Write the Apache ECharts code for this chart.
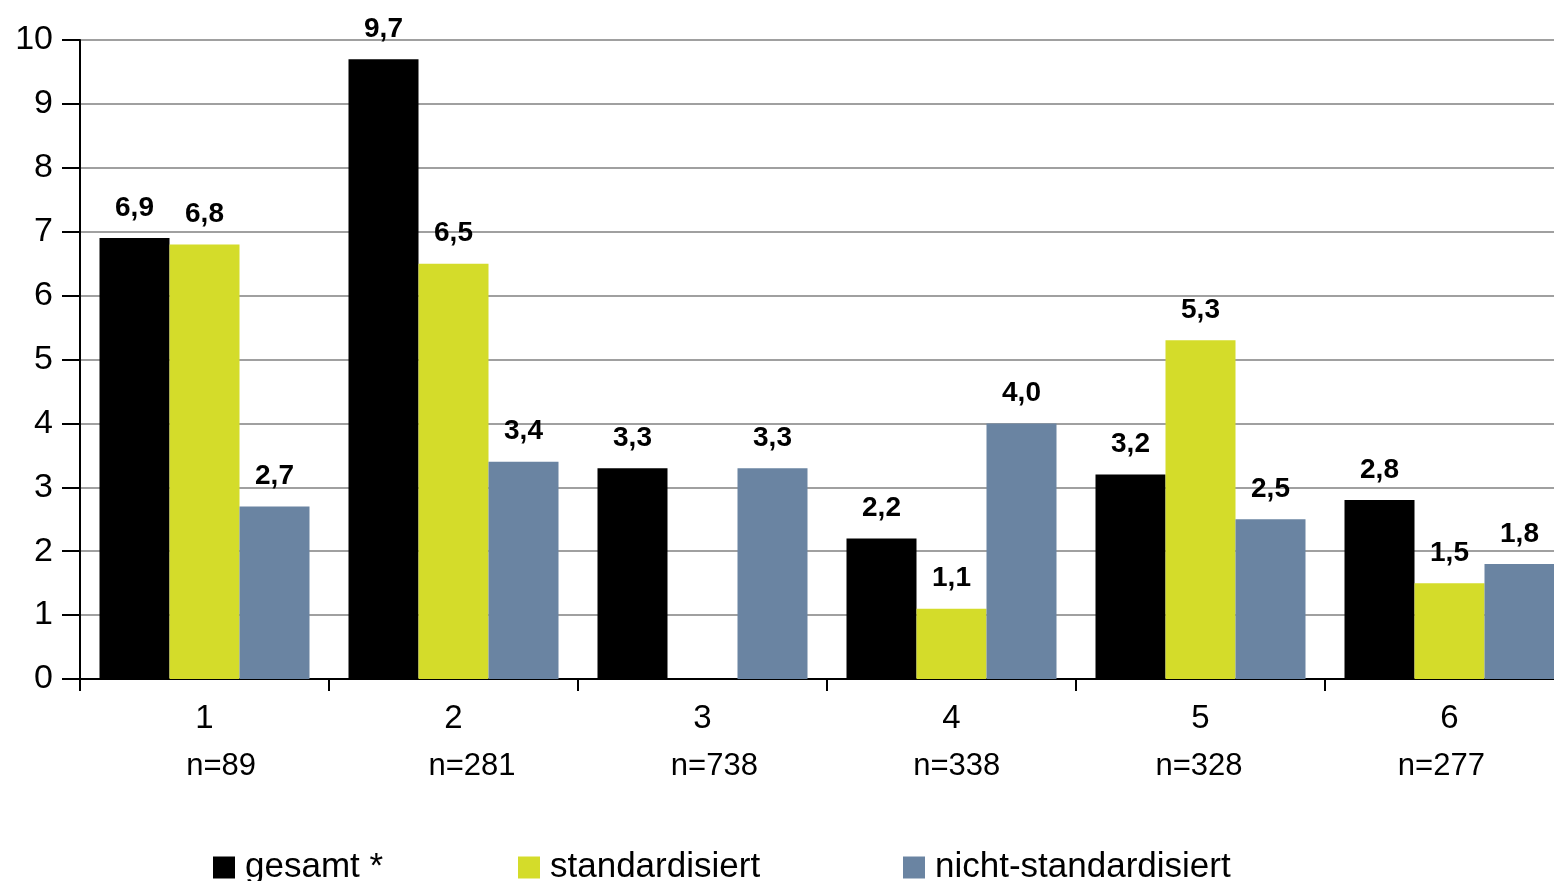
<!DOCTYPE html>
<html>
<head>
<meta charset="utf-8">
<script src="https://cdn.jsdelivr.net/npm/echarts@6/dist/echarts.min.js"></script>
<style>html,body{margin:0;padding:0;background:#fff;overflow:hidden;}#c{width:1580px;height:881px;}</style>
</head>
<body>
<div id="c"></div>
<script>
var categories = ['1', '2', '3', '4', '5', '6'];
var sampleLabels = ['n=89', 'n=281', 'n=738', 'n=338', 'n=328', 'n=277'];
var seriesNames = ['gesamt *', 'standardisiert', 'nicht-standardisiert'];
var gesamt = [6.9, 9.7, 3.3, 2.2, 3.2, 2.8];
var standardisiert = [6.8, 6.5, null, 1.1, 5.3, 1.5];
var nichtStandardisiert = [2.7, 3.4, 3.3, 4.0, 2.5, 1.8];
var yTicks = { min: 0, max: 10, interval: 1 };

var colors = ['#000000', '#D4DC2A', '#6A84A2'];
var font = '"Liberation Sans", Arial, sans-serif';

var chart = echarts.init(document.getElementById('c'));

function mkSeries(name, data, color) {
  return {
    name: name,
    type: 'bar',
    xAxisIndex: 0,
    yAxisIndex: 0,
    data: data,
    barWidth: 70,
    barGap: '0%',
    itemStyle: { color: color },
    label: {
      show: true,
      position: 'top',
      distance: 16,
      fontFamily: font,
      fontWeight: 'bold',
      fontSize: 28,
      color: '#000',
      formatter: function (p) { return p.value == null ? '' : Number(p.value).toFixed(1).replace('.', ','); }
    }
  };
}

var legendLefts = [213, 518, 903];
var legends = seriesNames.map(function (n, i) {
  return {
    data: [n],
    left: legendLefts[i],
    top: 850,
    padding: 0,
    icon: 'rect',
    itemWidth: 22,
    itemHeight: 22,
    itemGap: 10,
    textStyle: { fontFamily: font, fontSize: 35, color: '#000', padding: [0, 0, 0, 5] }
  };
});

chart.setOption({
  animation: false,
  backgroundColor: '#fff',
  legend: legends,
  grid: [
    { left: 80, top: 40, width: 1494, height: 639 },
    { left: 65, top: 40, width: 1454, height: 639 }
  ],
  xAxis: [
    {
      type: 'category',
      gridIndex: 0,
      data: categories,
      axisLine: { lineStyle: { color: '#000', width: 2 } },
      axisTick: { show: true, length: 12, lineStyle: { color: '#000', width: 2 } },
      axisLabel: { fontFamily: font, fontSize: 33, color: '#000', margin: 23 }
    },
    {
      type: 'category',
      gridIndex: 1,
      data: sampleLabels,
      axisLine: { show: false },
      axisTick: { show: false },
      axisLabel: { fontFamily: font, fontSize: 31, color: '#000', margin: 72, align: 'left' }
    }
  ],
  yAxis: [
    {
      type: 'value',
      gridIndex: 0,
      min: yTicks.min,
      max: yTicks.max,
      interval: yTicks.interval,
      axisLine: { show: true, lineStyle: { color: '#000', width: 2 } },
      axisTick: { show: true, length: 18, lineStyle: { color: '#000', width: 2 } },
      axisLabel: { fontFamily: font, fontSize: 34, color: '#000', margin: 27 },
      splitLine: { show: true, lineStyle: { color: '#A0A0A0', width: 2 } }
    },
    {
      type: 'value',
      gridIndex: 1,
      show: false,
      min: 0,
      max: 10
    }
  ],
  series: [
    mkSeries(seriesNames[0], gesamt, colors[0]),
    mkSeries(seriesNames[1], standardisiert, colors[1]),
    mkSeries(seriesNames[2], nichtStandardisiert, colors[2])
  ]
});
</script>
</body>
</html>
